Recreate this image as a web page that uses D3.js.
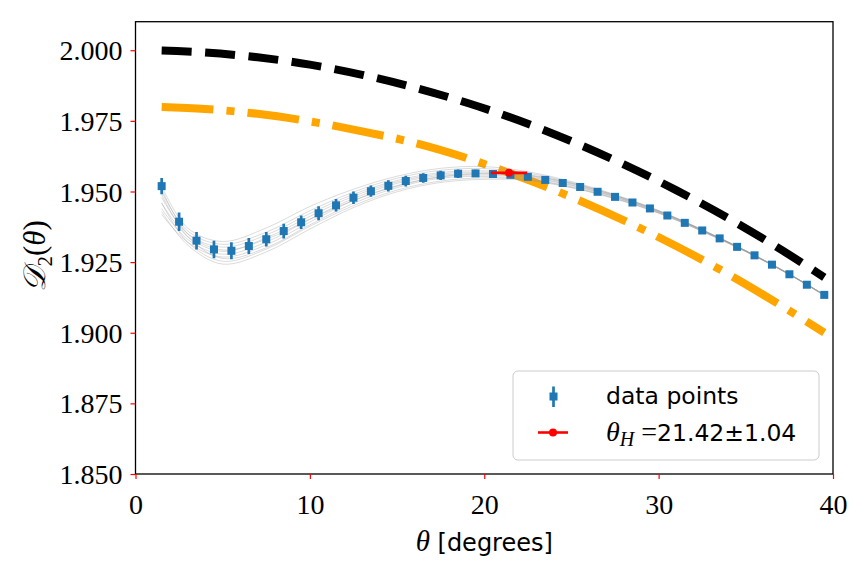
<!DOCTYPE html>
<html>
<head>
<meta charset="utf-8">
<script src="https://cdn.jsdelivr.net/npm/d3@7"></script>
<style>
  html, body { margin: 0; padding: 0; background: #fff; }
  svg { display: block; }
</style>
</head>
<body>
<svg id="chart" width="863" height="573"></svg>
<script>
// ---------------- data ----------------
const thetaData = [1.5, 2.5, 3.5, 4.5, 5.5, 6.5, 7.5, 8.5, 9.5, 10.5, 11.5, 12.5, 13.5, 14.5, 15.5, 16.5, 17.5, 18.5, 19.5,
  20.5, 21.5, 22.5, 23.5, 24.5, 25.5, 26.5, 27.5, 28.5, 29.5, 30.5, 31.5, 32.5, 33.5, 34.5, 35.5, 36.5, 37.5, 38.5, 39.5];
const d2Data = [1.9519, 1.9393, 1.9326, 1.9295, 1.9290, 1.9307, 1.9331, 1.9360, 1.9391, 1.9423, 1.9451, 1.9478, 1.9501,
  1.9520, 1.9537, 1.9548, 1.9557, 1.9563, 1.9564, 1.9562, 1.9559, 1.9552, 1.9541, 1.9530, 1.9516, 1.9499, 1.9481, 1.9461,
  1.9440, 1.9415, 1.9389, 1.9362, 1.9334, 1.9304, 1.9274, 1.9241, 1.9207, 1.9170, 1.9134];
const d2Err = [0.0029, 0.0033, 0.0031, 0.0031, 0.0030, 0.0028, 0.0026, 0.0026, 0.0024, 0.0025, 0.0022, 0.0022, 0.0020,
  0.0020, 0.0019, 0.0017, 0.0016, 0.0015, 0.0013, 0.0012, 0.0011, 0.0010, 0.0010, 0.0009, 0.0009, 0.0008, 0.0008, 0.0008,
  0.0008, 0.0007, 0.0007, 0.0007, 0.0007, 0.0007, 0.0007, 0.0007, 0.0007, 0.0007, 0.0007];

// theory curves
const theoryTheta = [1.5, 4, 7, 10, 13, 16, 19, 22, 25, 28, 31, 34, 37, 39.5];
const blackVals  = [1.9999, 1.9992, 1.9975, 1.9949, 1.9913, 1.9868, 1.9814, 1.9751, 1.9678, 1.9596, 1.9505, 1.9405, 1.9295, 1.9196];
const orangeVals = [1.9799, 1.9792, 1.9775, 1.9748, 1.9713, 1.9672, 1.9618, 1.9553, 1.9480, 1.9398, 1.9307, 1.9207, 1.9097, 1.9000];

// bootstrap fit curves (gray)
const fitTheta = [1.5, 3, 5, 7.5, 10, 12.5, 15, 17.5, 20, 22.5, 25, 27.5, 30, 32.5, 35, 37.5, 39.5];
const fitCurves = [
  [1.9519, 1.9370, 1.9323, 1.9371, 1.9447, 1.9508, 1.9554, 1.9582, 1.9588, 1.9570, 1.9535, 1.9489, 1.9433, 1.9365, 1.9291, 1.9208, 1.9134],
  [1.9499, 1.9360, 1.9313, 1.9356, 1.9432, 1.9498, 1.9547, 1.9575, 1.9581, 1.9565, 1.9532, 1.9487, 1.9432, 1.9364, 1.9290, 1.9207, 1.9134],
  [1.9479, 1.9350, 1.9303, 1.9346, 1.9422, 1.9490, 1.9539, 1.9567, 1.9573, 1.9560, 1.9529, 1.9485, 1.9431, 1.9364, 1.9290, 1.9207, 1.9134],
  [1.9459, 1.9340, 1.9288, 1.9336, 1.9412, 1.9483, 1.9534, 1.9562, 1.9568, 1.9556, 1.9526, 1.9483, 1.9429, 1.9363, 1.9289, 1.9207, 1.9134],
  [1.9439, 1.9330, 1.9278, 1.9321, 1.9402, 1.9475, 1.9529, 1.9557, 1.9563, 1.9552, 1.9523, 1.9481, 1.9428, 1.9362, 1.9289, 1.9207, 1.9134],
  [1.9419, 1.9320, 1.9268, 1.9311, 1.9392, 1.9468, 1.9521, 1.9552, 1.9558, 1.9549, 1.9521, 1.9480, 1.9427, 1.9362, 1.9289, 1.9207, 1.9133],
  [1.9489, 1.9340, 1.9263, 1.9301, 1.9382, 1.9458, 1.9514, 1.9547, 1.9553, 1.9544, 1.9517, 1.9477, 1.9425, 1.9360, 1.9288, 1.9206, 1.9133],
  [1.9459, 1.9320, 1.9253, 1.9296, 1.9377, 1.9450, 1.9505, 1.9537, 1.9548, 1.9542, 1.9515, 1.9475, 1.9424, 1.9359, 1.9287, 1.9206, 1.9132],
  [1.9509, 1.9350, 1.9293, 1.9331, 1.9402, 1.9468, 1.9519, 1.9552, 1.9563, 1.9557, 1.9529, 1.9486, 1.9431, 1.9364, 1.9290, 1.9208, 1.9134],
  [1.9429, 1.9310, 1.9243, 1.9286, 1.9367, 1.9443, 1.9499, 1.9532, 1.9543, 1.9539, 1.9513, 1.9474, 1.9423, 1.9359, 1.9287, 1.9205, 1.9131]
];

// theta_H point
const thetaH = 21.42;
const thetaHErr = 1.04;
const d2AtThetaH = 1.9566;

// axes
const xTicks = [0, 10, 20, 30, 40];
const yTicks = [1.850, 1.875, 1.900, 1.925, 1.950, 1.975, 2.000];
const xDomain = [0, 40];
const yDomain = [1.85, 2.0101];

// ---------------- layout ----------------
const svg = d3.select("#chart");
const L = 135.5, R = 833, T = 21.7, B = 474;
const x = d3.scaleLinear().domain(xDomain).range([L, R]);
const y = d3.scaleLinear().domain(yDomain).range([B, T]);

svg.append("defs").append("clipPath").attr("id", "clip")
  .append("rect").attr("x", L).attr("y", T).attr("width", R - L).attr("height", B - T);

const plot = svg.append("g").attr("clip-path", "url(#clip)");

const smooth = d3.line().x(d => x(d[0])).y(d => y(d[1])).curve(d3.curveCatmullRom.alpha(0.5));

// theory curves
plot.append("path")
  .attr("d", smooth(theoryTheta.map((t, i) => [t, blackVals[i]])))
  .attr("fill", "none").attr("stroke", "#000").attr("stroke-width", 8)
  .attr("stroke-dasharray", "30,13.5");
plot.append("path")
  .attr("d", smooth(theoryTheta.map((t, i) => [t, orangeVals[i]])))
  .attr("fill", "none").attr("stroke", "#ffa500").attr("stroke-width", 8)
  .attr("stroke-dasharray", "52,13,8,13");

// gray fit curves
fitCurves.forEach(c => {
  plot.append("path")
    .attr("d", smooth(fitTheta.map((t, i) => [t, c[i]])))
    .attr("fill", "none").attr("stroke", "#9a9a9a").attr("stroke-opacity", 0.45)
    .attr("stroke-width", 0.8);
});

// data points with error bars
const blue = "#1f77b4";
const pts = plot.append("g");
thetaData.forEach((t, i) => {
  pts.append("line")
    .attr("x1", x(t)).attr("x2", x(t))
    .attr("y1", y(d2Data[i] - d2Err[i])).attr("y2", y(d2Data[i] + d2Err[i]))
    .attr("stroke", blue).attr("stroke-width", 2.7);
  pts.append("rect")
    .attr("x", x(t) - 4).attr("y", y(d2Data[i]) - 4)
    .attr("width", 8).attr("height", 8).attr("fill", blue);
});

// red theta_H
plot.append("line")
  .attr("x1", x(thetaH - thetaHErr)).attr("x2", x(thetaH + thetaHErr))
  .attr("y1", y(d2AtThetaH)).attr("y2", y(d2AtThetaH))
  .attr("stroke", "#ff0000").attr("stroke-width", 2.6);
plot.append("circle")
  .attr("cx", x(thetaH)).attr("cy", y(d2AtThetaH)).attr("r", 4).attr("fill", "#ff0000");

// frame
svg.append("rect").attr("x", L).attr("y", T).attr("width", R - L).attr("height", B - T)
  .attr("fill", "none").attr("stroke", "#000").attr("stroke-width", 1.3);

// axes
const serif = "'Liberation Serif', 'Times New Roman', serif";
const sans = "'DejaVu Sans', sans-serif";

const xAxis = svg.append("g").attr("transform", `translate(0,${B})`)
  .call(d3.axisBottom(x).tickValues(xTicks).tickSize(5).tickPadding(8).tickFormat(d3.format("d")));
const yAxis = svg.append("g").attr("transform", `translate(${L},0)`)
  .call(d3.axisLeft(y).tickValues(yTicks).tickSize(5).tickPadding(8).tickFormat(d3.format(".3f")));
[xAxis, yAxis].forEach(a => {
  a.select(".domain").remove();
  a.selectAll(".tick line").attr("stroke", "#ff0000").attr("stroke-width", 1.2);
  a.selectAll(".tick text").attr("fill", "#000").style("font-family", serif).style("font-size", "28px");
});
xAxis.selectAll(".tick text").attr("dy", "0.95em");
yAxis.selectAll(".tick text").attr("dy", "0.34em");

// x label
const xl = svg.append("text").attr("x", (L + R) / 2).attr("y", 551).attr("text-anchor", "middle")
  .style("font-size", "24px");
xl.append("tspan").style("font-family", serif).style("font-style", "italic").style("font-size", "29px").text("θ");
xl.append("tspan").style("font-family", sans).text(" [degrees]");

// y label
const yl = svg.append("text").attr("transform", `translate(45,${(T + B) / 2 + 8}) rotate(-90)`)
  .attr("text-anchor", "middle").style("font-family", serif).style("font-size", "31px");
yl.append("tspan").style("font-style", "italic").text("𝒟");
yl.append("tspan").attr("dy", 7).style("font-size", "21px").text("2");
yl.append("tspan").attr("dy", -7).text("(");
yl.append("tspan").style("font-style", "italic").text("θ");
yl.append("tspan").text(")");

// legend
const lg = svg.append("g");
lg.append("rect").attr("x", 513).attr("y", 371).attr("width", 306).attr("height", 89).attr("rx", 5)
  .attr("fill", "#fff").attr("fill-opacity", 0.8).attr("stroke", "#cccccc").attr("stroke-width", 1);
lg.append("line").attr("x1", 553.5).attr("x2", 553.5).attr("y1", 386.5).attr("y2", 407)
  .attr("stroke", blue).attr("stroke-width", 2.7);
lg.append("rect").attr("x", 549.5).attr("y", 392.5).attr("width", 8).attr("height", 8).attr("fill", blue);
lg.append("text").attr("x", 606).attr("y", 404).style("font-family", sans).style("font-size", "23.5px").text("data points");
lg.append("line").attr("x1", 538).attr("x2", 568).attr("y1", 432.5).attr("y2", 432.5)
  .attr("stroke", "#ff0000").attr("stroke-width", 2.6);
lg.append("circle").attr("cx", 553).attr("cy", 432.5).attr("r", 4).attr("fill", "#ff0000");
const t2 = lg.append("text").attr("x", 606).attr("y", 441).style("font-size", "23.5px");
t2.append("tspan").style("font-family", serif).style("font-style", "italic").style("font-size", "28px").text("θ");
t2.append("tspan").attr("dy", 5).style("font-family", serif).style("font-style", "italic").style("font-size", "20px").text("H");
t2.append("tspan").attr("dy", -5).style("font-family", serif).style("font-size", "28px").text(" =");
t2.append("tspan").style("font-family", sans).text("21.42±1.04");
</script>
</body>
</html>
